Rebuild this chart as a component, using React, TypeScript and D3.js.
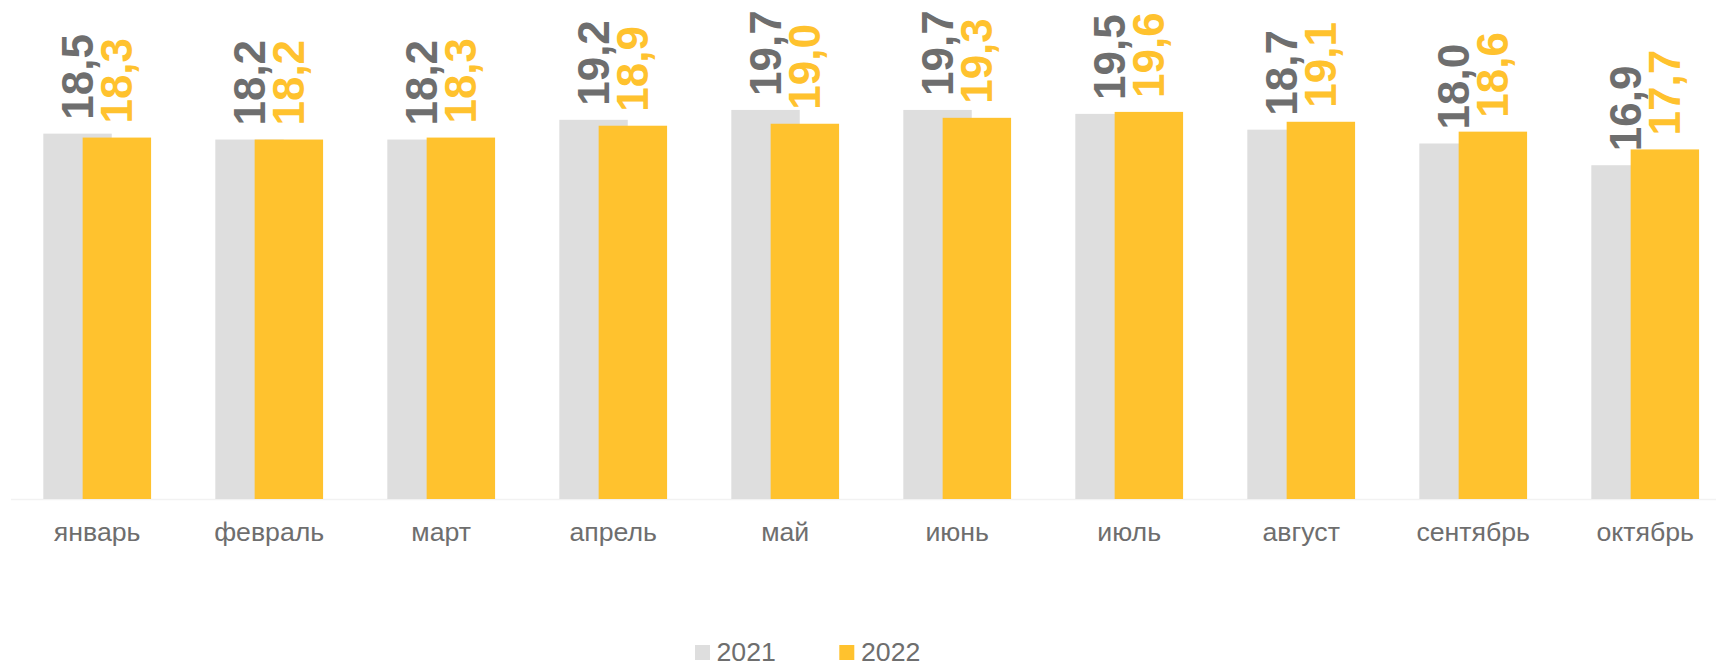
import React from "react";
import * as d3 from "d3";

const months = ["январь", "февраль", "март", "апрель", "май", "июнь", "июль", "август", "сентябрь", "октябрь"];
const values2021 = [18.5, 18.2, 18.2, 19.2, 19.7, 19.7, 19.5, 18.7, 18.0, 16.9];
const values2022 = [18.3, 18.2, 18.3, 18.9, 19.0, 19.3, 19.6, 19.1, 18.6, 17.7];
const seriesNames = ["2021", "2022"];

const W = 1716;
const H = 663;
const GRAY = "#DEDEDE";
const YELLOW = "#FFC22E";
const LABEL_GRAY = "#6E6E6E";
const FONT = "'Liberation Sans', Arial, sans-serif";

export default function App() {
  const baseY = 499;
  const pxPerUnit = 19.75;
  const y = d3.scaleLinear().domain([0, 25]).range([baseY, baseY - 25 * pxPerUnit]);
  const x = d3
    .scaleBand<string>()
    .domain(months)
    .range([11.2, 11.2 + 1720])
    .paddingInner(0.3735)
    .paddingOuter(0.3735 / 2);
  const bw = x.bandwidth();
  const barW = bw * 0.635;
  const offset = bw - barW;
  const fmt = (v: number) => v.toFixed(1).replace(".", ",");

  const series = [
    { name: seriesNames[0], values: values2021, color: GRAY, label: LABEL_GRAY, dx: 0 },
    { name: seriesNames[1], values: values2022, color: YELLOW, label: YELLOW, dx: offset },
  ];

  return (
    <svg width={W} height={H} style={{ position: "absolute", left: 0, top: 0, background: "#fff" }}>
      <line x1={11} x2={W} y1={baseY + 0.5} y2={baseY + 0.5} stroke="#F2F2F2" strokeWidth={1.5} />
      {series.map((s) =>
        months.map((m, i) => {
          const bx = (x(m) as number) + s.dx;
          const top = y(s.values[i]);
          return (
            <rect key={s.name + m} x={bx} y={top} width={barW} height={baseY - top} fill={s.color} />
          );
        })
      )}
      {series.map((s) =>
        months.map((m, i) => {
          const cx = (x(m) as number) + s.dx + barW / 2;
          const top = y(s.values[i]);
          const ly = top - 14;
          return (
            <text
              key={"l" + s.name + m}
              transform={`translate(${cx + 15.5},${ly}) rotate(-90)`}
              fontFamily={FONT}
              fontWeight="bold"
              fontSize={44}
              fill={s.label}
            >
              {fmt(s.values[i])}
            </text>
          );
        })
      )}
      {months.map((m) => (
        <text
          key={"c" + m}
          x={(x(m) as number) + bw / 2}
          y={541}
          textAnchor="middle"
          fontFamily={FONT}
          fontSize={26.7}
          fill={LABEL_GRAY}
        >
          {m}
        </text>
      ))}
      <g>
        <rect x={695} y={645} width={15} height={15} fill={GRAY} />
        <text x={716.5} y={660.5} fontFamily={FONT} fontSize={26.7} fill={LABEL_GRAY}>
          {seriesNames[0]}
        </text>
        <rect x={839.3} y={645} width={15} height={15} fill={YELLOW} />
        <text x={861} y={660.5} fontFamily={FONT} fontSize={26.7} fill={LABEL_GRAY}>
          {seriesNames[1]}
        </text>
      </g>
    </svg>
  );
}
